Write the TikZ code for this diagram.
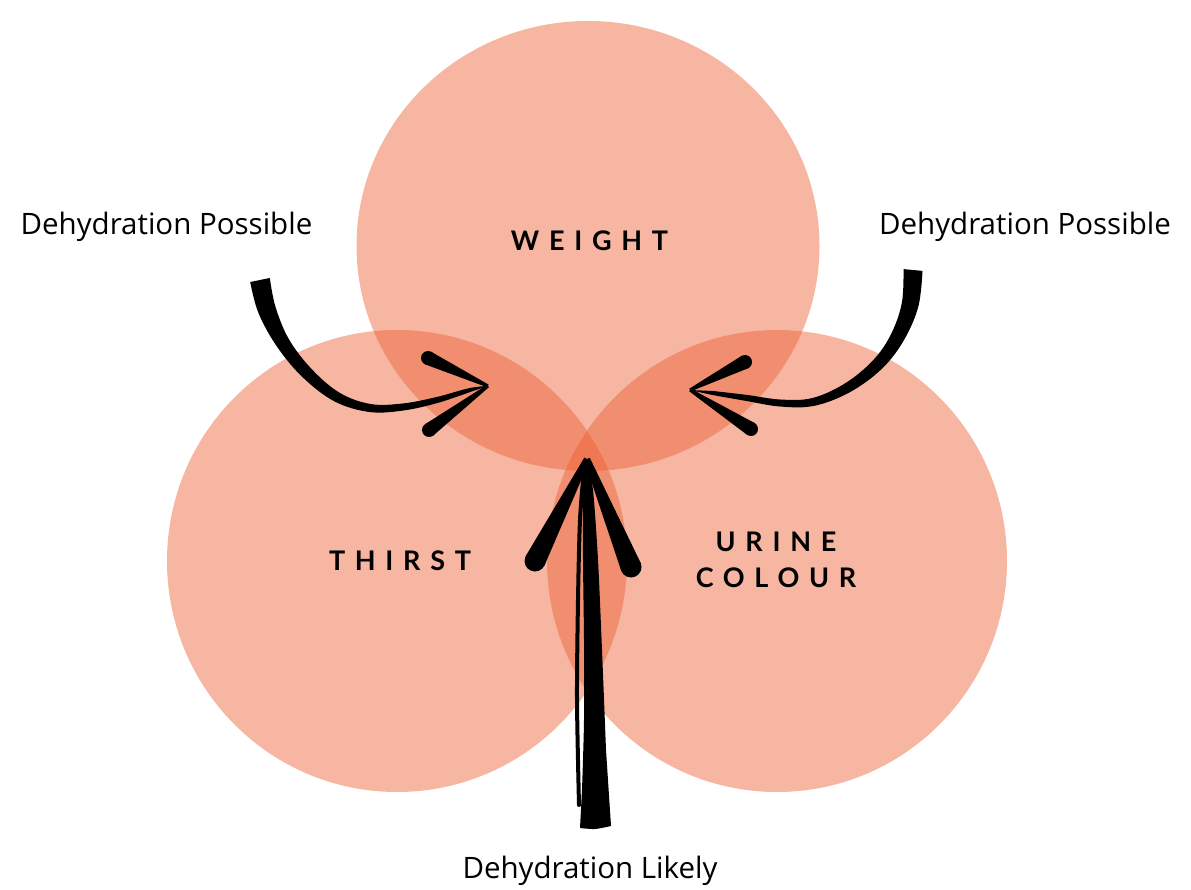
\documentclass[tikz,border=0pt]{standalone}
\usepackage{fontspec}
\setmainfont{Open Sans}
\newfontfamily\capfont[LetterSpace=36]{Lato}
\usetikzlibrary{calc}
\definecolor{blobc}{RGB}{237,95,50}
\newcommand\brushbarb[4]{%
  \fill ($(#1)!#3!90:(#2)$) -- ($(#2)!#4!-90:(#1)$) -- ($(#2)!#4!90:(#1)$) -- ($(#1)!#3!-90:(#2)$) -- cycle;
  \fill (#1) circle (#3);}
\begin{document}
\begin{tikzpicture}[x=1pt,y=-1pt,
  blob/.style={fill=blobc, fill opacity=0.45},
  caplabel/.style={font=\capfont\bfseries\fontsize{27}{36}\selectfont, align=center, text=black, inner sep=0pt},
  notelabel/.style={font=\fontsize{29.5}{34}\selectfont, text=black, inner sep=0pt, anchor=base}]
\useasboundingbox (0,0) rectangle (1191,890);
\fill[white] (0,0) rectangle (1191,890);

% three blobs
\fill[blob] (588,246) ellipse [x radius=231.5pt, y radius=225pt];
\fill[blob] (397,561) ellipse [x radius=230pt, y radius=231pt];
\fill[blob] (777,561) ellipse [x radius=230pt, y radius=231pt];

% labels
\node[caplabel] (weight) at (589.5,240.5) {WEIGHT};
\node[caplabel] (thirst) at (400,560.5) {THIRST};
\node[caplabel] (urine) at (776,560) {URINE\\COLOUR};
\node[notelabel] (possL) at (166.5,235) {Dehydration Possible};
\node[notelabel] (possR) at (1025,235) {Dehydration Possible};
\node[notelabel] (likely) at (590,878) {Dehydration Likely};

% tips
\coordinate (tipL) at (488,386);
\coordinate (tipR) at (690,390);
\coordinate (tipM) at (587,459);

% left brush arrow
\fill plot[smooth, tension=0.6] coordinates {(269.8,278) (275.5,306.9) (288.9,339.2) (311.3,368.7) (339.5,392.7) (370.6,404) (402.6,403.5) (436.3,397.1) (469.5,388.1) (tipL)}
  -- plot[smooth, tension=0.6] coordinates {(470.5,391.9) (437.8,402.9) (403.4,410.5) (369.4,412) (334.5,401.4) (302.7,377.3) (277.1,346.8) (258.5,313.1) (250.2,282)} -- cycle;
\coordinate (lbu) at (428,358);
\coordinate (lbl) at (429,430);
\brushbarb{lbu}{tipL}{7pt}{1.5pt}
\brushbarb{lbl}{tipL}{7pt}{1.5pt}

% right brush arrow
\fill plot[smooth, tension=0.6] coordinates {(922.5,270.9) (918.2,307) (903.2,341.4) (881.3,369.3) (849.5,392.4) (813.9,405.9) (779.8,406.5) (746.6,401) (712.7,395) (tipR)}
  -- plot[smooth, tension=0.6] coordinates {(713.3,391) (747.5,395) (780.2,399.5) (812.1,398.1) (844.5,383.7) (872.7,360.7) (890.8,334.6) (901.8,303) (903.5,269.1)} -- cycle;
\coordinate (rbu) at (745,362);
\coordinate (rbl) at (751,429);
\brushbarb{rbu}{tipR}{7pt}{1.5pt}
\brushbarb{rbl}{tipR}{7pt}{1.5pt}

% middle brush arrow
\fill plot[smooth, tension=0.5] coordinates {(580,828) (595,829) (611,826)}
  -- plot[smooth, tension=0.5] coordinates {(606,750) (602,650) (598,560) (593,490) (tipM)}
  -- plot[smooth, tension=0.5] coordinates {(583,476) (583,560) (584,640) (584,720) (582,790)} -- cycle;
\draw[line width=4pt, line cap=round] plot[smooth] coordinates {(579,805) (577,700) (578,600) (580,520) (584,470)};
\coordinate (mbl) at (535,561);
\coordinate (mbr) at (631,567);
\brushbarb{mbl}{tipM}{10.5pt}{3pt}
\brushbarb{mbr}{tipM}{10.5pt}{3pt}
\end{tikzpicture}
\end{document}
